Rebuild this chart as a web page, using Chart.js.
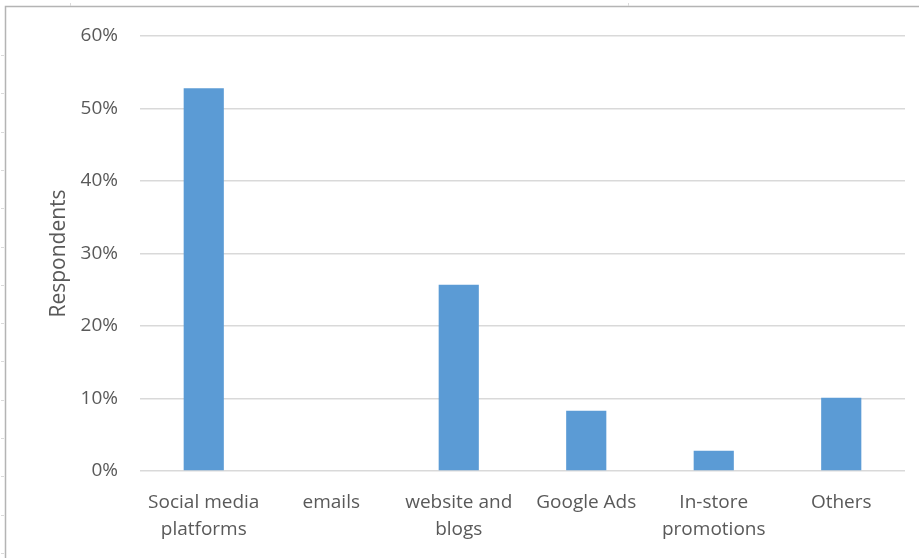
<!DOCTYPE html>
<html>
<head>
<meta charset="utf-8">
<script src="https://cdn.jsdelivr.net/npm/chart.js@4"></script>
<style>
    html, body { margin: 0; padding: 0; background: #fff; }
    #wrap { width: 919px; height: 558px; position: relative; }
</style>
</head>
<body>
<div id="wrap"><canvas id="grafico"></canvas></div>
<script>
// Datos del gráfico
const categorias = [['Social media', 'platforms'], 'emails', ['website and', 'blogs'], 'Google Ads', ['In-store', 'promotions'], 'Others'];
const valores = [52.8, 0, 25.7, 8.3, 2.8, 10.1];
const ticksY = [0, 10, 20, 30, 40, 50, 60];

const FUENTE = "'Open Sans', 'Noto Sans', sans-serif";
const GRIS = '#595959';

// marco de la hoja detrás del gráfico
const marco = {
    id: 'marco',
    beforeDraw(chart) {
        const ctx = chart.ctx;
        ctx.save();
        ctx.strokeStyle = '#b4b4b4';
        ctx.lineWidth = 1.5;
        ctx.beginPath();
        ctx.moveTo(5.5, chart.height);
        ctx.lineTo(5.5, 6.5);
        ctx.lineTo(chart.width, 6.5);
        ctx.stroke();
        ctx.strokeStyle = '#dadada';
        ctx.lineWidth = 1;
        ctx.beginPath();
        for (let y = 55; y < chart.height; y += 38.3) {
            ctx.moveTo(1, Math.round(y) + 0.5);
            ctx.lineTo(4, Math.round(y) + 0.5);
        }
        [70, 628].forEach(x => { ctx.moveTo(x + 0.5, 3); ctx.lineTo(x + 0.5, 6); });
        ctx.stroke();
        ctx.restore();
    }
};

new Chart(document.getElementById('grafico'), {
    type: 'bar',
    data: {
        labels: categorias,
        datasets: [{
            data: valores,
            backgroundColor: '#5b9bd5',
            borderWidth: 0,
            categoryPercentage: 1,
            barPercentage: 0.315
        }]
    },
    options: {
        responsive: true,
        maintainAspectRatio: false,
        animation: false,
        layout: { padding: { left: 46, right: 14, top: 36, bottom: 0 } },
        plugins: { legend: { display: false }, tooltip: { enabled: false } },
        scales: {
            x: {
                grid: { display: false },
                border: { display: false },
                ticks: {
                    color: GRIS,
                    font: { family: FUENTE, size: 19, lineHeight: 1.42 },
                    padding: 10,
                    maxRotation: 0,
                    autoSkip: false
                },
                afterFit: (s) => { s.height = 87; }
            },
            y: {
                min: 0,
                max: 60,
                afterBuildTicks: (s) => { s.ticks = ticksY.map(v => ({ value: v })); },
                grid: { color: '#d9d9d9', lineWidth: 1.5, drawTicks: false },
                border: { display: false },
                ticks: {
                    color: GRIS,
                    font: { family: FUENTE, size: 19 },
                    padding: 22,
                    callback: (v) => v + '%'
                },
                title: {
                    display: true,
                    text: 'Respondents',
                    color: GRIS,
                    font: { family: FUENTE, size: 21 },
                    padding: { top: 0, bottom: 0 }
                },
                afterFit: (s) => { s.width = 94; }
            }
        }
    },
    plugins: [marco]
});
</script>
</body>
</html>
